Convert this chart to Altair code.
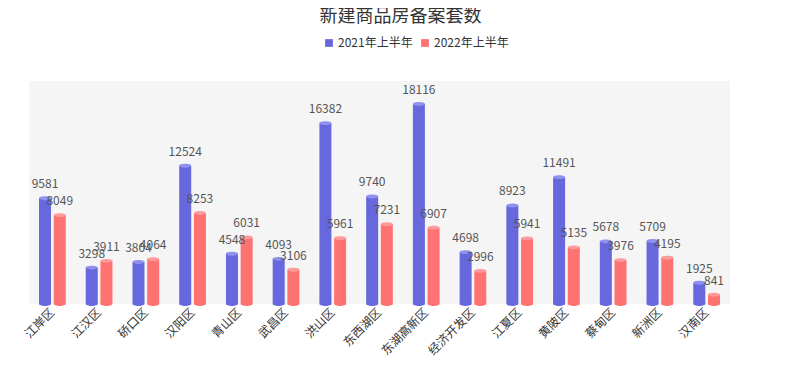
import altair as alt
import pandas as pd

districts = ["江岸区", "江汉区", "硚口区", "汉阳区", "青山区", "武昌区", "洪山区", "东西湖区",
             "东湖高新区", "经济开发区", "江夏区", "黄陂区", "蔡甸区", "新洲区", "汉南区"]
series_names = ["2021年上半年", "2022年上半年"]
values_2021 = [9581, 3298, 3804, 12524, 4548, 4093, 16382, 9740, 18116, 4698, 8923, 11491, 5678, 5709, 1925]
values_2022 = [8049, 3911, 4064, 8253, 6031, 3106, 5961, 7231, 6907, 2996, 5941, 5135, 3976, 4195, 841]

rows = []
for d, a, b in zip(districts, values_2021, values_2022):
    rows.append({"区": d, "年份": series_names[0], "套数": a})
    rows.append({"区": d, "年份": series_names[1], "套数": b})
df = pd.DataFrame(rows)

FONT = "Noto Sans CJK SC"
colors = ["#6767de", "#ff7272"]
top_colors = ["#9090ee", "#ff9a9a"]

x = alt.X("区:N", sort=districts, title=None,
          scale=alt.Scale(paddingInner=0, paddingOuter=0),
          axis=alt.Axis(labelAngle=-45, labelAlign="right", labelBaseline="middle",
                        labelFont=FONT, labelFontSize=12, labelColor="#333333",
                        domain=False, ticks=False, labelPadding=6))
xo = alt.XOffset("年份:N", sort=series_names,
                 scale=alt.Scale(paddingInner=0.22, paddingOuter=0.7))
y = alt.Y("套数:Q", scale=alt.Scale(domain=[0, 20200], nice=False), axis=None)

base = alt.Chart(df)

bg = alt.Chart(pd.DataFrame({"a": [0]})).mark_rect(fill="#f5f5f5").encode(
    x=alt.value(0), x2=alt.value(701), y=alt.value(0), y2=alt.value(223))

bars = base.mark_bar(width=12).encode(
    x=x, xOffset=xo, y=y,
    color=alt.Color("年份:N", sort=series_names,
                    scale=alt.Scale(domain=series_names, range=colors),
                    legend=alt.Legend(title=None, orient="none", direction="horizontal",
                                      legendX=294, legendY=-44, symbolType="square",
                                      symbolSize=60, symbolStrokeWidth=0,
                                      labelFont=FONT, labelFontSize=12, labelColor="#333333",
                                      columnPadding=6, labelOffset=3)))

ellipse = "M-1,0 A1,0.32 0 1,1 1,0 A1,0.32 0 1,1 -1,0 Z"

bottoms = base.mark_point(shape=ellipse, size=144, filled=True, opacity=1).encode(
    x=x, xOffset=xo, y=alt.Y("zero:Q", scale=alt.Scale(domain=[0, 20200], nice=False), axis=None),
    color=alt.Color("年份:N", sort=series_names,
                    scale=alt.Scale(domain=series_names, range=colors), legend=None)
).transform_calculate(zero="0")

tops = base.mark_point(shape=ellipse, size=144, filled=True, opacity=1).encode(
    x=x, xOffset=xo, y=y,
    color=alt.Color("年份:N", sort=series_names,
                    scale=alt.Scale(domain=series_names, range=top_colors), legend=None))

labels = base.mark_text(dy=-14, font=FONT, fontSize=12, color="#555555").encode(
    x=x, xOffset=xo, y=y, text=alt.Text("套数:Q", format="d"))

chart = alt.layer(bg, bars, bottoms, tops, labels).resolve_scale(color="independent").properties(
    width=701, height=223,
    title=alt.TitleParams("新建商品房备案套数", font=FONT, fontSize=18, fontWeight="normal",
                          color="#333333", anchor="middle", dx=21, offset=11, frame="group"),
    autosize=alt.AutoSizeParams(type="none"),
    padding={"left": 21, "top": 73, "right": 62, "bottom": 60},
).configure_view(stroke=None)

chart.save("out.html", embed_options={"renderer": "svg", "actions": False})
